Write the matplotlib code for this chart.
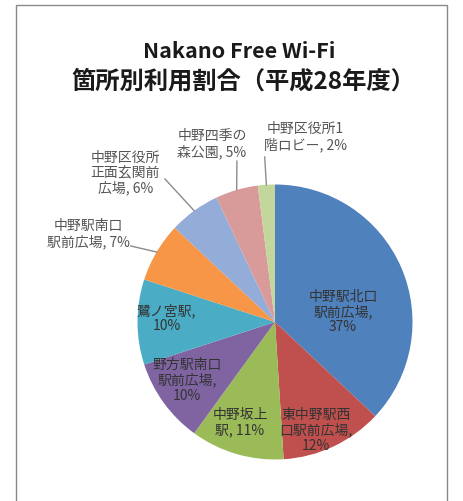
import numpy as np
import matplotlib
matplotlib.use("Agg")
from matplotlib import pyplot as plt
from matplotlib.patches import Rectangle
from matplotlib.lines import Line2D

plt.rcParams['font.family'] = ['Noto Sans CJK JP', 'DejaVu Sans']

# data
shares = [37, 12, 11, 10, 10, 7, 6, 5, 2]
colors = ["#4F81BD", "#C0504D", "#9BBB59", "#8064A2", "#4BACC6", "#F79646",
          "#93ACD8", "#D99A9A", "#C3D69B"]

# label text: inside slices the value goes on its own line, outside ones share the last line
label_texts = [
    "中野駅北口\n駅前広場,\n37%",
    "東中野駅西\n口駅前広場,\n12%",
    "中野坂上\n駅, 11%",
    "野方駅南口\n駅前広場,\n10%",
    "鷺ノ宮駅,\n10%",
    "中野駅南口\n駅前広場, 7%",
    "中野区役所\n正面玄関前\n広場, 6%",
    "中野四季の\n森公園, 5%",
    "中野区役所1\n階ロビー, 2%",
]
# label centres (pie radius = 1) and where outside leader lines start
label_pos = [(0.495, 0.08), (0.30, -0.78), (-0.255, -0.727), (-0.64, -0.415), (-0.79, 0.036),
             (-1.36, 0.647), (-1.09, 1.09), (-0.458, 1.30), (0.22, 1.353)]
leader_start = [None, None, None, None, None,
                (-1.05, 0.553), (-0.80, 1.04), (-0.277, 1.17), (-0.075, 1.20)]

W, H = 463, 502
fig = plt.figure(figsize=(W / 100, H / 100), dpi=100)

# chart frame
fig.patches.append(Rectangle((16 / W, -0.05), (447 - 16) / W, 1.05 - 6 / H,
                             transform=fig.transFigure, fill=False,
                             edgecolor="#8a8a8a", linewidth=1.0))

fig.text(239 / W, 1 - 52 / H, "Nakano Free Wi-Fi", ha="center", va="center",
         fontsize=15.5, fontweight="bold", color="#1a1a1a")
fig.text(243 / W, 1 - 82 / H, "箇所別利用割合（平成28年度）", ha="center", va="center",
         fontsize=17.5, fontweight="bold", color="#1a1a1a")

r = 137.5
cx, cy = 275, 323
ax = fig.add_axes([(cx - r) / W, (H - cy - r) / H, 2 * r / W, 2 * r / H])
wedges, _ = ax.pie(shares, colors=colors, startangle=90, counterclock=False,
                   radius=1, wedgeprops=dict(linewidth=0))
ax.set_xlim(-1, 1)
ax.set_ylim(-1, 1)
ax.set_aspect("equal")
ax.axis("off")

for i, w in enumerate(wedges):
    x, y = label_pos[i]
    outside = leader_start[i] is not None
    ax.text(x, y, label_texts[i], ha="center", va="center", fontsize=10,
            color="#555555" if outside else "#333333", linespacing=1.1)
    if outside:
        mid = np.deg2rad((w.theta1 + w.theta2) / 2)
        ex, ey = np.cos(mid), np.sin(mid)
        sx, sy = leader_start[i]
        ax.add_line(Line2D([sx, ex], [sy, ey], color="#8c8c8c", linewidth=1.0, clip_on=False))

plt.savefig("out.png", dpi=100)
